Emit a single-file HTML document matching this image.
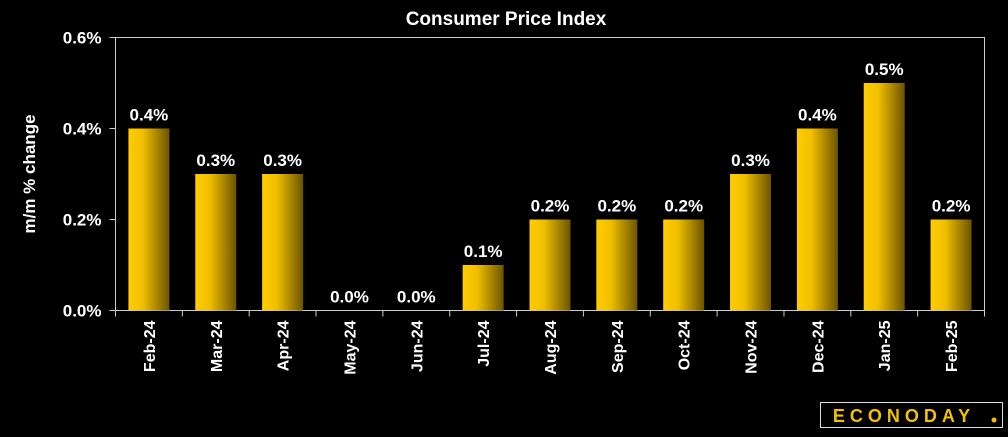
<!DOCTYPE html>
<html><head><meta charset="utf-8"><style>
html,body{margin:0;padding:0;background:#000;}
svg text{font-family:"Liberation Sans",sans-serif;font-weight:bold;fill:#fff;}
</style></head><body>
<svg width="1008" height="432" viewBox="0 0 1008 432">
<defs><linearGradient id="g" x1="0" x2="1" y1="0" y2="0">
<stop offset="0" stop-color="#ffcc00"/><stop offset="0.35" stop-color="#f0c000"/><stop offset="1" stop-color="#6b5400"/></linearGradient></defs>
<text x="506" y="25" text-anchor="middle" font-size="19">Consumer Price Index</text>
<rect x="115.5" y="37.5" width="869" height="273" fill="none" stroke="#ccc" stroke-width="1"/>
<text transform="translate(35,174) rotate(-90)" text-anchor="middle" font-size="17">m/m % change</text>
<g id="yt"></g><g id="bars"></g>
<g>
<rect x="820.5" y="402.5" width="182" height="25" fill="#000" stroke="#ddd" stroke-width="1"/>
<text x="904" y="422" text-anchor="middle" font-size="18" letter-spacing="5" style="fill:#f2c200">ECONODAY</text>
<circle cx="994" cy="420" r="2.5" fill="#f2c200"/>
</g>
</svg>
<script>
const categories=["Feb-24","Mar-24","Apr-24","May-24","Jun-24","Jul-24","Aug-24","Sep-24","Oct-24","Nov-24","Dec-24","Jan-25","Feb-25"];
const values=[0.4,0.3,0.3,0.0,0.0,0.1,0.2,0.2,0.2,0.3,0.4,0.5,0.2];
const yTicks=[0,0.2,0.4,0.6];
const NS="http://www.w3.org/2000/svg";
const x0=115.5,step=(984.5-115.5)/categories.length,yTop=37.5,yBot=310.5;
const y=v=>yBot-(v/0.6)*(yBot-yTop);
function mk(t,a,p){const e=document.createElementNS(NS,t);for(const k in a)e.setAttribute(k,a[k]);p.appendChild(e);return e;}
const yt=document.getElementById('yt'),bars=document.getElementById('bars');
yTicks.forEach(v=>{
 const l=mk('line',{x1:x0-6,x2:x0,y1:y(v),y2:y(v),stroke:'#ccc'},yt);
 
 
 const t=mk('text',{x:x0-14,y:y(v)+6,'text-anchor':'end','font-size':'17'},yt);
 t.textContent=v.toFixed(1)+'%';
 
 
});
for(let i=0;i<=categories.length;i++){
 const l=mk('line',{x1:x0+i*step,x2:x0+i*step,y1:yBot,y2:yBot+6,stroke:'#ccc'},yt);
 
 
}
categories.forEach((c,i)=>{
 const cx=x0+step*(i+0.5),w=41,v=values[i];
 if(v>0){const r=mk('rect',{x:cx-w/2,y:y(v),width:w,height:yBot-y(v),fill:'url(#g)'},bars);
 
 }
 const t=mk('text',{x:cx,y:y(v)-8,'text-anchor':'middle','font-size':'17'},bars);
 t.textContent=v.toFixed(1)+'%';
 
 
 const xl=mk('text',{transform:`translate(${cx+6},${yBot+10}) rotate(-90)`,'text-anchor':'end','font-size':'16'},bars);
 xl.textContent=c;
 
 
});
</script>
</body></html>
